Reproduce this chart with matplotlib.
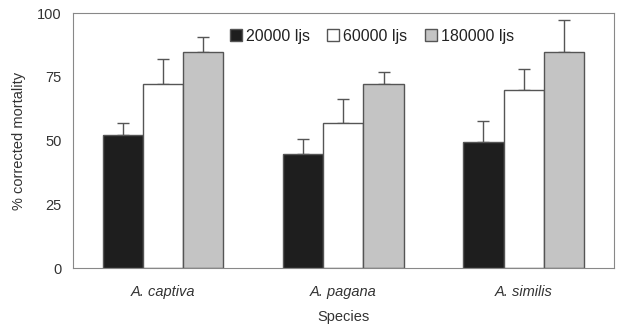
import numpy as np
import matplotlib.pyplot as plt

plt.rcParams['font.family'] = ['Liberation Sans', 'DejaVu Sans']

species = ['A. captiva', 'A. pagana', 'A. similis']
labels = ['20000 ljs', '60000 ljs', '180000 ljs']
means_20k = [52.4, 44.6, 49.5]
means_60k = [72.3, 57.1, 69.9]
means_180k = [84.8, 72.2, 84.7]
err_20k = [4.7, 6.2, 8.3]
err_60k = [9.9, 9.4, 8.3]
err_180k = [5.7, 4.9, 12.8]

colors = ['#1e1e1e', '#ffffff', '#c4c4c4']
edge = '#555555'

fig = plt.figure(figsize=(6.22, 3.29), dpi=100)
ax = fig.add_axes([0.117, 0.185, 0.87, 0.775])

x = np.arange(len(species))
w = 0.223
series = [(means_20k, err_20k), (means_60k, err_60k), (means_180k, err_180k)]
for i, (m, e) in enumerate(series):
    pos = x + (i - 1) * w
    ax.bar(pos, m, w, color=colors[i], edgecolor=edge, linewidth=1.0,
           label=labels[i], zorder=2)
    ax.errorbar(pos, m, yerr=[np.zeros(len(e)), e], fmt='none', ecolor=edge,
                elinewidth=1.0, capsize=4, capthick=1.0, zorder=1)

ax.set_xlim(-0.5, 2.5)
ax.set_ylim(0, 100)
ax.set_yticks([0, 25, 50, 75, 100])
ax.set_xticks(x)
ax.set_xticklabels(species, fontstyle='italic', fontsize=10, color='#333333')
ax.tick_params(axis='both', length=0, pad=8, labelsize=10.5, colors='#333333')
ax.tick_params(axis='x', pad=12)
for s in ax.spines.values():
    s.set_color('#888888')
    s.set_linewidth(0.8)

ax.set_xlabel('Species', fontsize=10.5, color='#333333', labelpad=8)
ax.set_ylabel('% corrected mortality', fontsize=10.5, color='#333333', labelpad=8)

ax.legend(loc='upper center', bbox_to_anchor=(0.553, 0.995), ncol=3, frameon=False,
          fontsize=11.5, handlelength=0.75, handleheight=0.75, handletextpad=0.25,
          columnspacing=1.1, labelcolor='#222222')

fig.savefig('out.png', dpi=100)
